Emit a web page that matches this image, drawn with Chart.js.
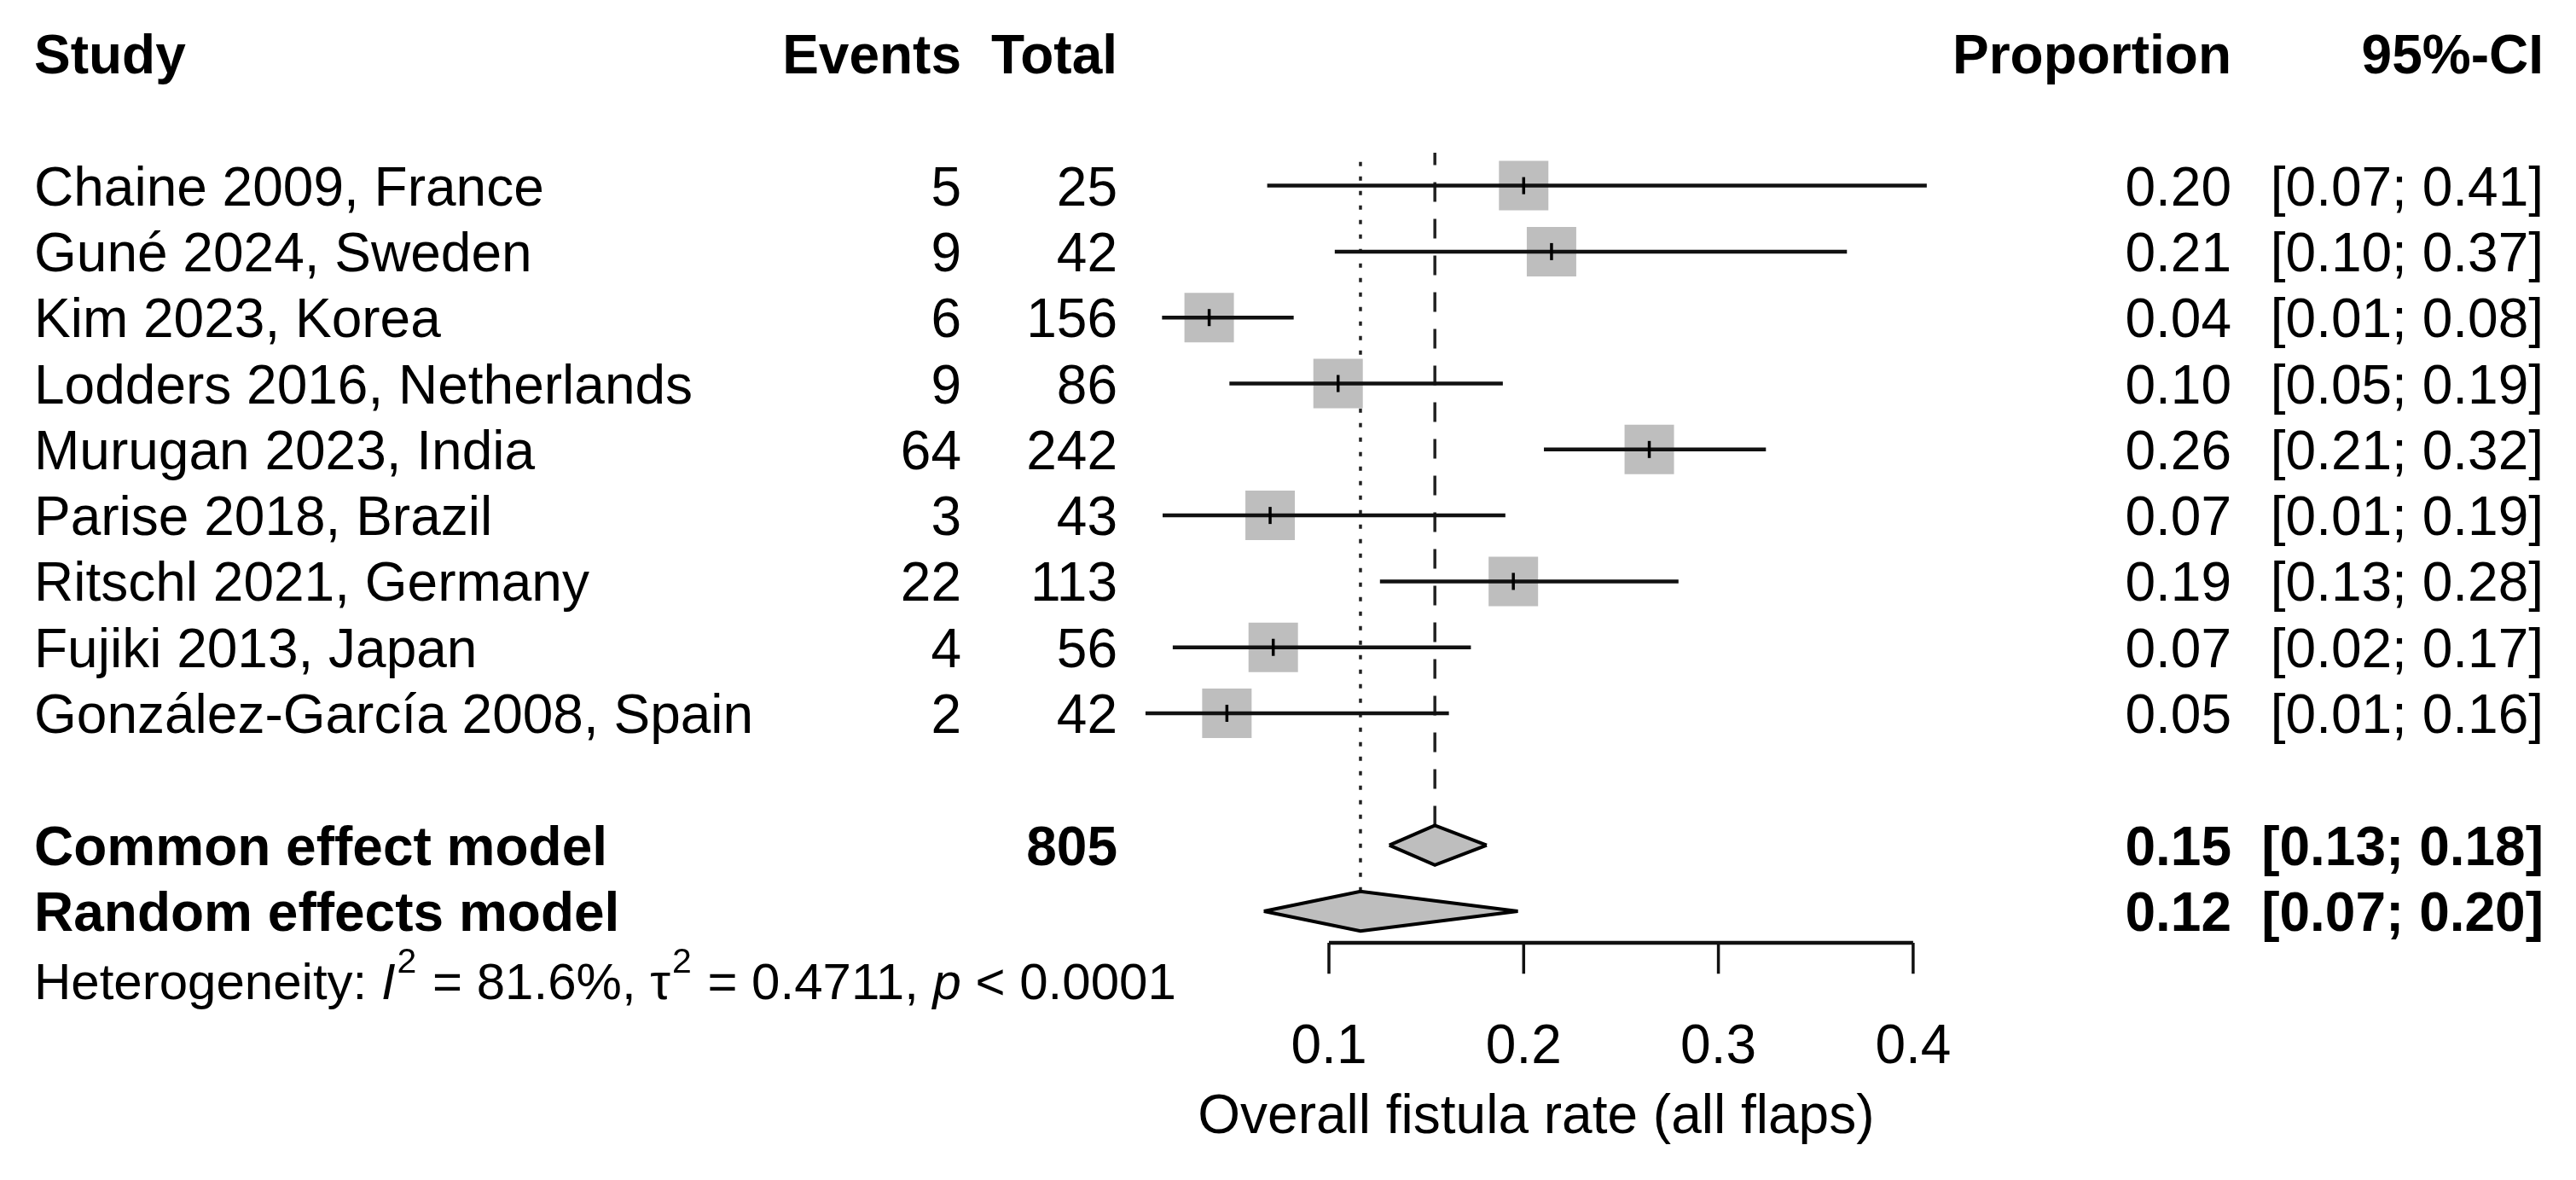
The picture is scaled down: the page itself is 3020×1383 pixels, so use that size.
<!DOCTYPE html>
<html>
<head>
<meta charset="utf-8">
<script src="https://cdn.jsdelivr.net/npm/chart.js@4.4.0/dist/chart.umd.min.js"></script>
<style>
  html, body { margin: 0; padding: 0; background: #fff; }
  #forest { display: block; }
</style>
</head>
<body>
<canvas id="forest" width="3020" height="1383"></canvas>
<script>
// study rows
const studies = ["Chaine 2009, France", "Guné 2024, Sweden", "Kim 2023, Korea",
  "Lodders 2016, Netherlands", "Murugan 2023, India", "Parise 2018, Brazil",
  "Ritschl 2021, Germany", "Fujiki 2013, Japan", "González-García 2008, Spain"];
const events = [5, 9, 6, 9, 64, 3, 22, 4, 2];
const totals = [25, 42, 156, 86, 242, 43, 113, 56, 42];
const proportion = [0.2000, 0.2143, 0.0385, 0.1047, 0.2645, 0.0698, 0.1947, 0.0714, 0.0476];
const ciLower = [0.0683, 0.1030, 0.0143, 0.0489, 0.2104, 0.0146, 0.1262, 0.0198, 0.0058];
const ciUpper = [0.4070, 0.3660, 0.0819, 0.1893, 0.3244, 0.1906, 0.2795, 0.1729, 0.1616];

// pooled estimates
const modelNames = ["Common effect model", "Random effects model"];
const modelEst = [0.1544, 0.1162];
const modelLower = [0.1310, 0.0666];
const modelUpper = [0.1810, 0.1970];
const totalN = 805;

const axisTicks = [0.1, 0.2, 0.3, 0.4];
const tickLabels = ["0.1", "0.2", "0.3", "0.4"];
const axisTitle = "Overall fistula rate (all flaps)";
const hetI2 = "81.6%";
const hetTau2 = "0.4711";
const hetP = "< 0.0001";

// row layout (in row units on the y scale)
const modelRows = [10, 11];
const headerRow = -2;
const hetRow = 12.06;
const axisRow = 11.48;
const tickEndRow = 11.95;
const tickLabelRow = 13;
const titleRow = 14.07;
const diamondHalf = 0.3;

const FONT = "'Liberation Sans', Arial, Helvetica, sans-serif";
const FS = 64;
const HET_FS = 60;

// build datasets
const ciData = [];
studies.forEach((s, i) => {
  ciData.push({x: ciLower[i], y: i}, {x: ciUpper[i], y: i}, {x: null, y: null});
});
const pointData = proportion.map((p, i) => ({x: p, y: i}));

const axisTickData = [];
axisTicks.forEach(t => {
  axisTickData.push({x: t, y: axisRow}, {x: t, y: tickEndRow}, {x: null, y: null});
});

const datasets = [
  {
    label: 'common line', showLine: true, pointRadius: 0, order: 9,
    data: [{x: modelEst[0], y: modelRows[0] - diamondHalf}, {x: modelEst[0], y: -0.5}],
    borderColor: '#222', borderWidth: 3.5, borderDash: [23, 20]
  },
  {
    label: 'random line', showLine: true, pointRadius: 0, order: 8,
    data: [{x: modelEst[1], y: modelRows[1] - diamondHalf}, {x: modelEst[1], y: -0.5}],
    borderColor: '#222', borderWidth: 3.5, borderDash: [5, 12]
  },
  {
    label: 'squares', data: pointData, order: 7,
    pointStyle: 'rect', pointRadius: 41, pointBackgroundColor: '#bebebe',
    pointBorderWidth: 0
  },
  {
    label: 'ci', data: ciData, showLine: true, pointRadius: 0, order: 6,
    borderColor: '#111', borderWidth: 4.5, spanGaps: false
  },
  {
    label: 'estimate ticks', data: pointData, order: 5,
    pointStyle: 'line', pointRotation: 90, pointRadius: 10,
    pointBorderColor: '#000', pointBorderWidth: 3.5
  }
];

modelNames.forEach((m, k) => {
  const r = modelRows[k];
  datasets.push({
    label: m + ' top', showLine: true, pointRadius: 0, order: 4,
    data: [{x: modelLower[k], y: r}, {x: modelEst[k], y: r - diamondHalf}, {x: modelUpper[k], y: r}],
    borderColor: '#000', borderWidth: 4, borderJoinStyle: 'miter',
    fill: '+1', backgroundColor: '#bebebe'
  });
  datasets.push({
    label: m + ' bottom', showLine: true, pointRadius: 0, order: 3,
    data: [{x: modelLower[k], y: r}, {x: modelEst[k], y: r + diamondHalf}, {x: modelUpper[k], y: r}],
    borderColor: '#000', borderWidth: 4, borderJoinStyle: 'miter', fill: false
  });
});

datasets.push({
  label: 'axis', showLine: true, pointRadius: 0, order: 2,
  data: [{x: axisTicks[0], y: axisRow}, {x: axisTicks[axisTicks.length - 1], y: axisRow}],
  borderColor: '#111', borderWidth: 4.5
});
datasets.push({
  label: 'axis ticks', showLine: true, pointRadius: 0, order: 1,
  data: axisTickData, borderColor: '#111', borderWidth: 3.5, spanGaps: false
});

// columns of text
const STUDY_X = 40, EVENTS_X = 1127, TOTAL_X = 1310, PROP_X = 2616, CI_X = 2982;

const textPlugin = {
  id: 'forestText',
  afterDatasetsDraw(chart) {
    const {ctx, scales: {x, y}} = chart;
    const base = r => y.getPixelForValue(r) + 23;
    ctx.save();
    ctx.fillStyle = '#000';
    ctx.textBaseline = 'alphabetic';
    function put(str, px, row, align, style) {
      ctx.font = (style || '') + ' ' + FS + 'px ' + FONT;
      ctx.textAlign = align;
      ctx.fillText(str, px, base(row));
    }
    const ci = (lo, hi) => '[' + lo.toFixed(2) + '; ' + hi.toFixed(2) + ']';

    // header
    put('Study', STUDY_X, headerRow, 'left', 'bold');
    put('Events', EVENTS_X, headerRow, 'right', 'bold');
    put('Total', TOTAL_X, headerRow, 'right', 'bold');
    put('Proportion', PROP_X, headerRow, 'right', 'bold');
    put('95%-CI', CI_X, headerRow, 'right', 'bold');

    studies.forEach((s, i) => {
      put(s, STUDY_X, i, 'left');
      put(String(events[i]), EVENTS_X, i, 'right');
      put(String(totals[i]), TOTAL_X, i, 'right');
      put(proportion[i].toFixed(2), PROP_X, i, 'right');
      put(ci(ciLower[i], ciUpper[i]), CI_X, i, 'right');
    });

    modelNames.forEach((m, k) => {
      const r = modelRows[k];
      put(m, STUDY_X, r, 'left', 'bold');
      if (k === 0) put(String(totalN), TOTAL_X, r, 'right', 'bold');
      put(modelEst[k].toFixed(2), PROP_X, r, 'right', 'bold');
      put(ci(modelLower[k], modelUpper[k]), CI_X, r, 'right', 'bold');
    });

    // heterogeneity line with italics and superscripts
    const parts = [
      ['Heterogeneity: ', ''], ['I', 'italic'], ['2', 'sup'], [' = ' + hetI2 + ', ', ''],
      ['\u03C4', ''], ['2', 'sup'], [' = ' + hetTau2 + ', ', ''], ['p', 'italic'], [' ' + hetP, '']
    ];
    let cx = STUDY_X;
    const hb = y.getPixelForValue(hetRow) + 21;
    ctx.textAlign = 'left';
    parts.forEach(([str, st]) => {
      if (st === 'sup') {
        ctx.font = '41px ' + FONT;
        ctx.fillText(str, cx + 2, hb - 31);
        cx += ctx.measureText(str).width + 4;
      } else {
        ctx.font = (st === 'italic' ? 'italic ' : '') + HET_FS + 'px ' + FONT;
        ctx.fillText(str, cx, hb);
        cx += ctx.measureText(str).width;
      }
    });

    // axis tick labels and title
    axisTicks.forEach((t, i) => put(tickLabels[i], x.getPixelForValue(t), tickLabelRow, 'center'));
    const mid = (Math.min(...ciLower) + Math.max(...ciUpper)) / 2;
    put(axisTitle, x.getPixelForValue(mid), titleRow, 'center');
    ctx.restore();
  }
};

new Chart(document.getElementById('forest'), {
  type: 'scatter',
  data: { datasets: datasets },
  options: {
    responsive: false,
    animation: false,
    events: [],
    layout: { padding: 0, autoPadding: false },
    elements: { line: { tension: 0 } },
    plugins: { legend: { display: false }, tooltip: { enabled: false } },
    scales: {
      x: { type: 'linear', display: false, min: -0.58243, max: 0.74039 },
      y: { type: 'linear', display: false, min: -2.815, max: 15.076, reverse: true }
    }
  },
  plugins: [textPlugin]
});
</script>
</body>
</html>
